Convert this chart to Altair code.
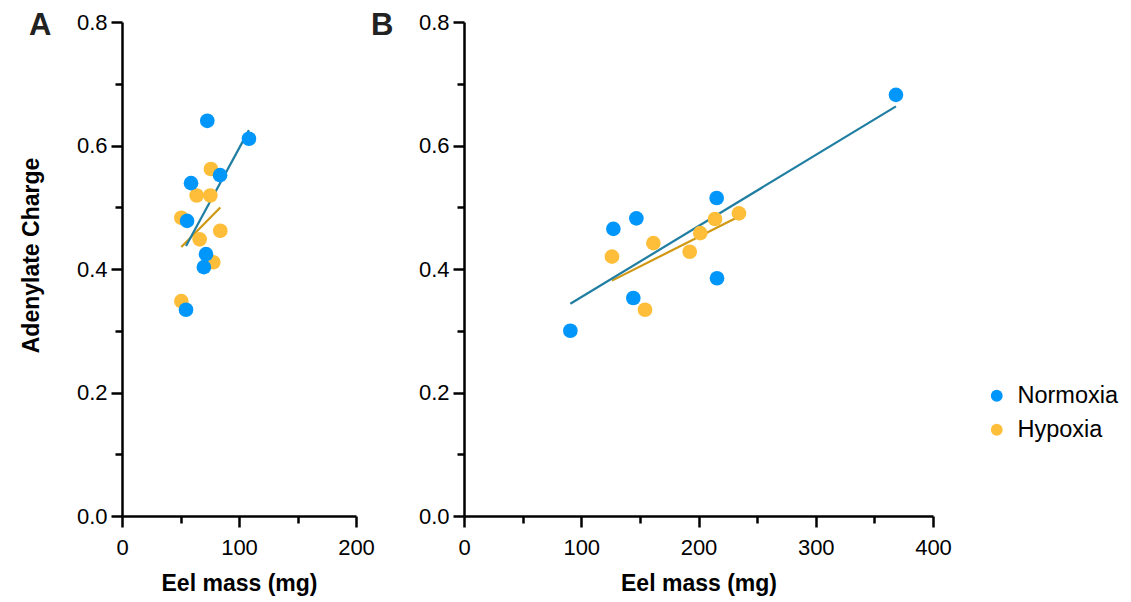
import altair as alt
import pandas as pd

FONT = "Liberation Sans"
groups = ["Normoxia", "Hypoxia"]
point_colors = ["#0096FA", "#FFBE3A"]
line_colors = {"Normoxia": "#1F7EA1", "Hypoxia": "#D09812"}
panel_labels = ["A", "B"]

# Panel A data
a_norm_mass = [72.9, 108.5, 83.8, 59.0, 55.6, 71.8, 70.0, 54.7]
a_norm_charge = [0.640, 0.611, 0.552, 0.539, 0.478, 0.424, 0.403, 0.334]
a_hyp_mass = [76.0, 63.8, 75.5, 50.7, 84.0, 66.4, 78.0, 50.7]
a_hyp_charge = [0.562, 0.519, 0.519, 0.483, 0.462, 0.448, 0.411, 0.348]

# Panel B data
b_norm_mass = [215.5, 147.0, 127.4, 215.8, 144.4, 90.7, 368.4]
b_norm_charge = [0.515, 0.482, 0.465, 0.385, 0.353, 0.300, 0.682]
b_hyp_mass = [234.5, 214.1, 201.5, 161.5, 192.5, 126.2, 154.4]
b_hyp_charge = [0.490, 0.481, 0.458, 0.442, 0.428, 0.420, 0.334]

y_ticks = [0.0, 0.1, 0.2, 0.3, 0.4, 0.5, 0.6, 0.7, 0.8]
a_x_ticks = [0, 50, 100, 150, 200]
b_x_ticks = [0, 50, 100, 150, 200, 250, 300, 350, 400]


def frame(norm_mass, norm_charge, hyp_mass, hyp_charge):
    # hypoxia first so normoxia points are drawn on top
    return pd.DataFrame({
        "mass": list(hyp_mass) + list(norm_mass),
        "charge": list(hyp_charge) + list(norm_charge),
        "group": ["Hypoxia"] * len(hyp_mass) + ["Normoxia"] * len(norm_mass),
    })


def panel(df, xmax, xticks, width, label, show_ytitle):
    y_major = "round(datum.value * 10) % 2 == 0"
    x_major = "datum.value % 100 == 0"
    x = alt.X(
        "mass:Q",
        scale=alt.Scale(domain=[0, xmax], nice=False, zero=True),
        axis=alt.Axis(
            values=xticks,
            title="Eel mass (mg)",
            labelExpr=f"{x_major} ? format(datum.value, 'd') : ''",
            tickSize={"condition": {"test": x_major, "value": 11}, "value": 7},
            labelFlush=False,
            labelPadding=10,
            titlePadding=14,
        ),
    )
    y = alt.Y(
        "charge:Q",
        scale=alt.Scale(domain=[0, 0.8], nice=False),
        axis=alt.Axis(
            values=y_ticks,
            title="Adenylate Charge" if show_ytitle else None,
            labelExpr=f"{y_major} ? format(datum.value, '.1f') : ''",
            tickSize={"condition": {"test": y_major, "value": 11}, "value": 7},
            labelFlush=False,
            labelPadding=4,
            titlePadding=33,
            titleY=233,
        ),
    )
    base = alt.Chart(df)
    layers = []
    for g in ["Hypoxia", "Normoxia"]:
        layers.append(
            base.transform_filter(alt.datum.group == g)
            .transform_regression("mass", "charge")
            .mark_line(color=line_colors[g], strokeWidth=2.2)
            .encode(x=x, y=y)
        )
    pts = base.mark_circle(size=215, opacity=1).encode(
        x=x,
        y=y,
        color=alt.Color(
            "group:N",
            scale=alt.Scale(domain=groups, range=point_colors),
            legend=alt.Legend(
                title=None,
                orient="none",
                legendX=863,
                legendY=362,
                symbolType="circle",
                symbolSize=140,
                symbolOpacity=1,
                symbolStrokeWidth=0,
                labelFont=FONT,
                labelFontSize=23.5,
                labelColor="black",
                labelOffset=9,
                rowPadding=9,
            ),
        ),
    )
    layers.append(pts)
    txt = (
        alt.Chart(pd.DataFrame({"label": [label]}))
        .mark_text(
            font=FONT,
            fontSize=31,
            fontWeight="bold",
            color="#222222",
            align="left",
            baseline="alphabetic",
        )
        .encode(text="label:N", x=alt.value(-93), y=alt.value(13))
    )
    layers.append(txt)
    return alt.layer(*layers).properties(width=width, height=494)


df_a = frame(a_norm_mass, a_norm_charge, a_hyp_mass, a_hyp_charge)
df_b = frame(b_norm_mass, b_norm_charge, b_hyp_mass, b_hyp_charge)

chart_a = panel(df_a, 200, a_x_ticks, 234, panel_labels[0], True)
chart_b = panel(df_b, 400, b_x_ticks, 469, panel_labels[1], False)

chart = (
    alt.hconcat(chart_a, chart_b, spacing=108, bounds="flush")
    .properties(padding={"left": 20, "top": 10, "right": 5, "bottom": 5})
    .configure_view(stroke=None)
    .configure_axis(
        grid=False,
        domainColor="black",
        domainWidth=2.5,
        tickColor="black",
        tickWidth=2.5,
        labelFont=FONT,
        labelFontSize=22,
        labelColor="black",
        titleFont=FONT,
        titleFontSize=23,
        titleFontWeight="bold",
        titleColor="black",
    )
)

chart.save("out.html", embed_options={"renderer": "svg", "actions": False})
